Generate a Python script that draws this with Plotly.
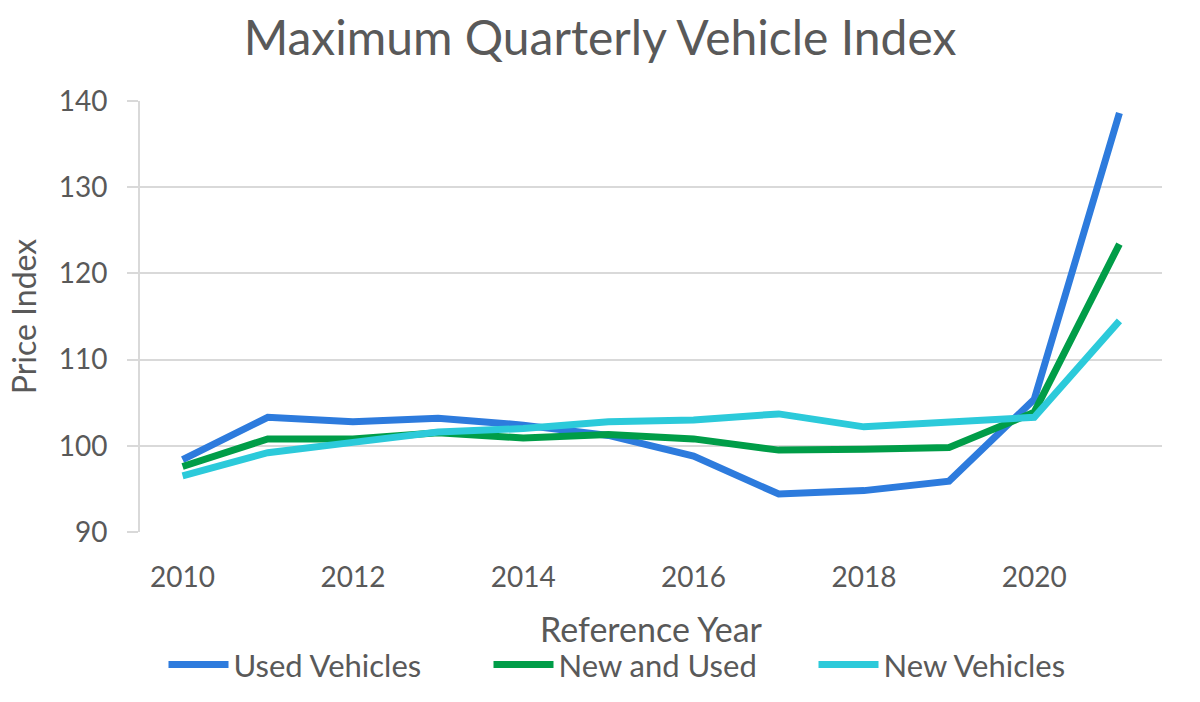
import plotly.graph_objects as go

years = [2010, 2011, 2012, 2013, 2014, 2015, 2016, 2017, 2018, 2019, 2020, 2021]
used = [98.4, 103.3, 102.8, 103.2, 102.4, 101.2, 98.8, 94.4, 94.8, 95.9, 105.4, 138.6]
new_and_used = [97.6, 100.8, 100.8, 101.5, 100.9, 101.3, 100.8, 99.5, 99.6, 99.8, 103.9, 123.4]
new = [96.5, 99.2, 100.4, 101.6, 102.0, 102.8, 103.0, 103.7, 102.2, 102.8, 103.3, 114.5]

series = [
    ("Used Vehicles", used, "#2D7BDD"),
    ("New and Used", new_and_used, "#009D48"),
    ("New Vehicles", new, "#2CCADA"),
]

FONT = "Lato"
GREY = "#595959"

fig = go.Figure()
for name, vals, col in series:
    fig.add_trace(go.Scatter(x=years, y=vals, name=name, mode="lines",
                             line=dict(color=col, width=7)))

fig.update_layout(
    width=1200, height=702,
    paper_bgcolor="white", plot_bgcolor="white",
    margin=dict(l=140, r=38, t=101, b=169),
    font=dict(family=FONT, color=GREY),
    title=dict(text="Maximum Quarterly Vehicle Index", x=0.5, xanchor="center",
               y=0.945, yanchor="middle", font=dict(size=48, color=GREY, family=FONT)),
    xaxis=dict(range=[2009.5, 2021.5], tickmode="array",
               tickvals=[2010, 2012, 2014, 2016, 2018, 2020],
               ticktext=["2010", "2012", "2014", "2016", "2018", "2020"],
               tickfont=dict(size=28, color=GREY), showgrid=False, zeroline=False,
               showline=False, ticks="", ticklen=0, ticklabelstandoff=26,
               title=dict(text="Reference Year", font=dict(size=34, color=GREY), standoff=26)),
    yaxis=dict(range=[90, 140], tickvals=[90, 100, 110, 120, 130, 140],
               tickfont=dict(size=28, color=GREY), showgrid=True, gridcolor="#D9D9D9",
               gridwidth=2, zeroline=False, showline=True, linecolor="#D9D9D9", linewidth=2,
               ticks="outside", tickcolor="#D9D9D9", ticklen=11, tickwidth=2,
               ticklabelstandoff=14,
               title=dict(text="Price Index", font=dict(size=32, color=GREY), standoff=12)),
    legend=dict(orientation="h", x=0.5, xanchor="center", y=-0.305, yanchor="middle",
                font=dict(size=31, color=GREY), itemwidth=60, entrywidth=250,
                bgcolor="rgba(0,0,0,0)"),
    showlegend=True,
)

fig.write_html("out.html")
